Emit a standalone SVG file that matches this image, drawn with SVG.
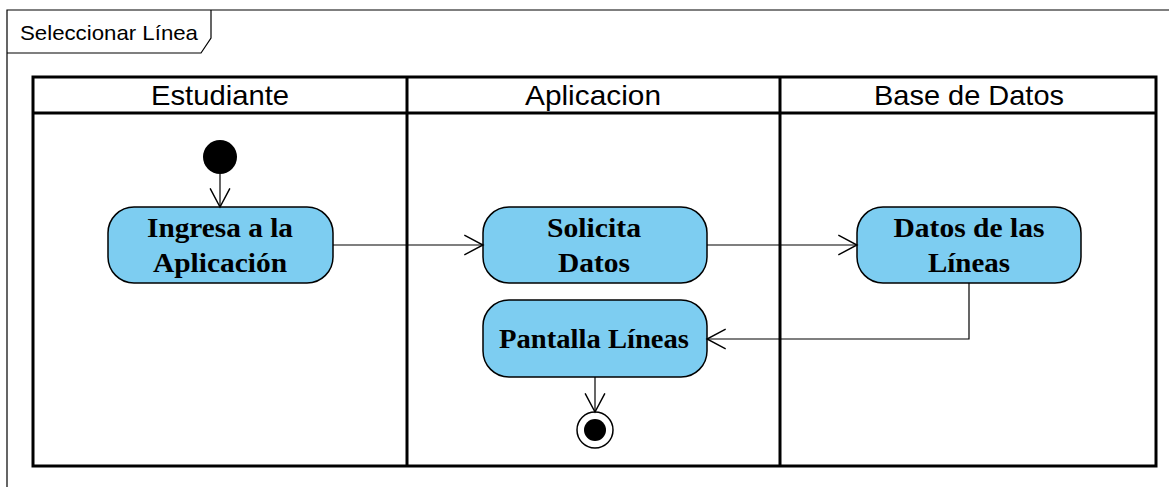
<svg xmlns="http://www.w3.org/2000/svg" width="1169" height="487" viewBox="0 0 1169 487">
<defs>
<style>
.frame{fill:none;stroke:#000;stroke-width:1.2}
.lane{fill:none;stroke:#000;stroke-width:3}
.hdr{font-family:"Liberation Sans",Arial,sans-serif;font-size:28px;fill:#000;text-anchor:middle}
.act{fill:#7dcdf1;stroke:#000;stroke-width:1.5}
.lbl{font-family:"Liberation Serif","Times New Roman",serif;font-weight:bold;font-size:28px;fill:#000;text-anchor:middle}
.conn{fill:none;stroke:#000;stroke-width:1.2}
</style>
<marker id="arr" markerWidth="22" markerHeight="22" refX="17" refY="9" orient="auto" markerUnits="userSpaceOnUse" viewBox="0 0 20 18">
<path d="M0,0 L17,9 L0,18" fill="none" stroke="#000" stroke-width="1.3"/>
</marker>
</defs>
<rect width="1169" height="487" fill="#fff"/>
<g id="frame">
<path class="frame" d="M7,495 L7,10 L1175,10"/>
<path class="frame" d="M7,53 L201,53 L211,38 L211,10"/>
<text x="20" y="40" font-family="Liberation Sans,Arial,sans-serif" font-size="21" fill="#000" textLength="178" lengthAdjust="spacingAndGlyphs">Seleccionar Línea</text>
</g>
<g id="swimlanes">
<rect class="lane" x="33" y="77" width="1123" height="389"/>
<line class="lane" x1="33" y1="113" x2="1156" y2="113"/>
<line class="lane" x1="407" y1="77" x2="407" y2="466"/>
<line class="lane" x1="780" y1="77" x2="780" y2="466"/>
<text class="hdr" x="220" y="105" textLength="138" lengthAdjust="spacingAndGlyphs">Estudiante</text>
<text class="hdr" x="593" y="105" textLength="136" lengthAdjust="spacingAndGlyphs">Aplicacion</text>
<text class="hdr" x="969" y="105" textLength="190" lengthAdjust="spacingAndGlyphs">Base de Datos</text>
</g>
<g id="start">
<circle cx="220" cy="157" r="17" fill="#000"/>
</g>
<g id="ingresa">
<rect class="act" x="108" y="207" width="225" height="76" rx="26" ry="26"/>
<text class="lbl" x="220" y="237" textLength="146" lengthAdjust="spacingAndGlyphs">Ingresa a la</text>
<text class="lbl" x="220" y="272" textLength="134" lengthAdjust="spacingAndGlyphs">Aplicación</text>
</g>
<g id="solicita">
<rect class="act" x="483" y="207" width="224" height="76" rx="26" ry="26"/>
<text class="lbl" x="594" y="237" textLength="94" lengthAdjust="spacingAndGlyphs">Solicita</text>
<text class="lbl" x="594" y="272" textLength="72" lengthAdjust="spacingAndGlyphs">Datos</text>
</g>
<g id="datos">
<rect class="act" x="857" y="207" width="224" height="76" rx="26" ry="26"/>
<text class="lbl" x="969" y="237" textLength="151" lengthAdjust="spacingAndGlyphs">Datos de las</text>
<text class="lbl" x="969" y="272" textLength="82" lengthAdjust="spacingAndGlyphs">Líneas</text>
</g>
<g id="pantalla">
<rect class="act" x="483" y="300" width="224" height="77" rx="26" ry="26"/>
<text class="lbl" x="594" y="348" textLength="190" lengthAdjust="spacingAndGlyphs">Pantalla Líneas</text>
</g>
<g id="end">
<circle cx="595" cy="430" r="18" fill="#fff" stroke="#000" stroke-width="1.5"/>
<circle cx="595" cy="430" r="11" fill="#000"/>
</g>
<g id="connectors">
<path class="conn" d="M220,174 L220,207" marker-end="url(#arr)"/>
<path class="conn" d="M333,245 L483,245" marker-end="url(#arr)"/>
<path class="conn" d="M707,245 L857,245" marker-end="url(#arr)"/>
<path class="conn" d="M969,283 L969,339 L707,339" marker-end="url(#arr)"/>
<path class="conn" d="M595,377 L595,412" marker-end="url(#arr)"/>
</g>
</svg>
